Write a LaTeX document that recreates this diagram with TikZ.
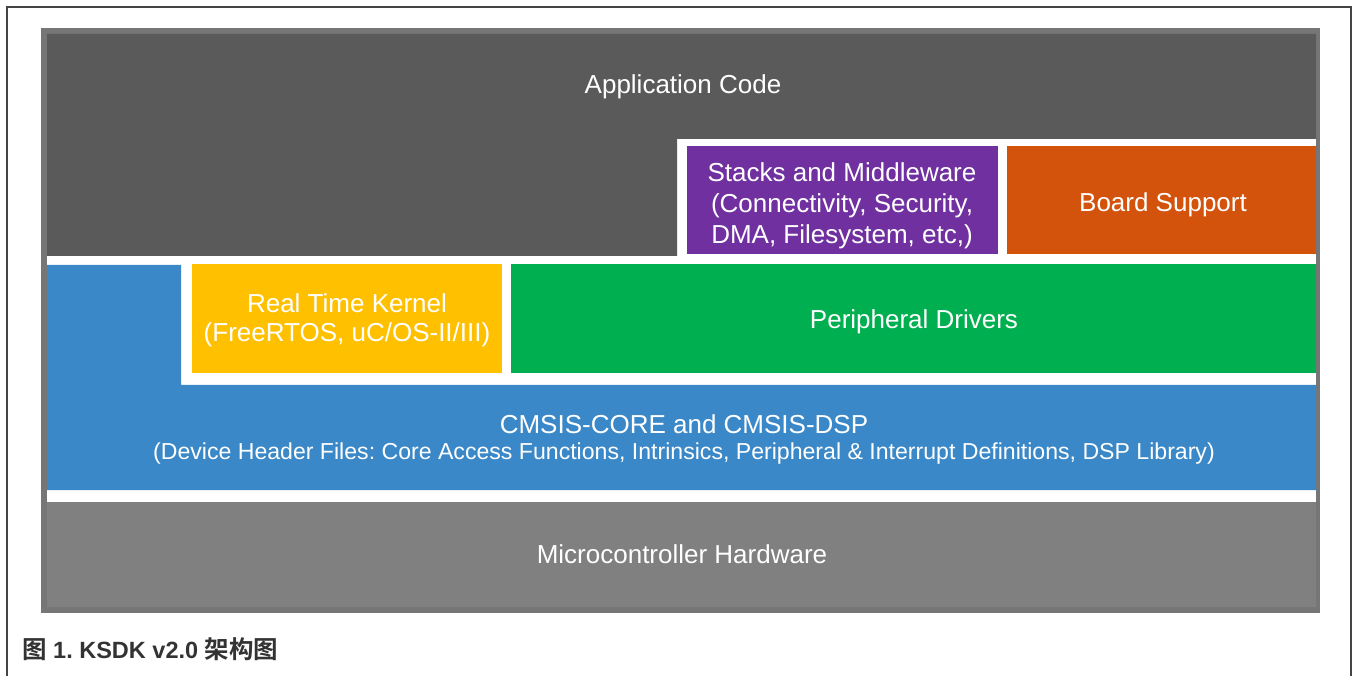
\documentclass[tikz,border=0pt]{standalone}
\usepackage{fontspec}
\setmainfont{Liberation Sans}
\newfontfamily\cjk{Noto Sans CJK SC}[BoldFont={Noto Sans CJK SC Bold}]
\frenchspacing
\definecolor{frameC}{HTML}{444444}
\definecolor{outerC}{HTML}{767676}
\definecolor{appC}{HTML}{5A5A5A}
\definecolor{hwC}{HTML}{808080}
\definecolor{purpC}{HTML}{7030A0}
\definecolor{orangeC}{HTML}{D3520C}
\definecolor{greenC}{HTML}{00B050}
\definecolor{yellowC}{HTML}{FFC000}
\definecolor{blueC}{HTML}{3A88C8}
\definecolor{capC}{HTML}{333333}
\tikzset{
  block/.style={anchor=north west, inner sep=0pt, outer sep=0pt, draw=none},
  lbl/.style={inner sep=0pt, text=white, align=center, font=\fontsize{26}{31}\selectfont},
}
\begin{document}
\begin{tikzpicture}[x=1pt,y=-1pt]
\useasboundingbox (0,0) rectangle (1353,676);
% page frame
\draw[frameC, line width=2pt] (7,676) -- (7,7) -- (1351,7) -- (1351,676);
% container
\fill[outerC] (41,28) rectangle (1320,613);
\fill[white] (47,34) rectangle (1316,607);
% application code (L-shape)
\fill[appC] (47,34) -- (1316,34) -- (1316,139) -- (677,139) -- (677,256) -- (47,256) -- cycle;
\node[lbl] (app) at (683,87) {Application Code};
% stacks and board support
\node[block, fill=purpC, minimum width=311pt, minimum height=108pt] (stacks) at (687,146) {};
\node[lbl] (stackslbl) at (842,206) {Stacks and Middleware\\(Connectivity, Security,\\DMA, Filesystem, etc,)};
\node[block, fill=orangeC, minimum width=309pt, minimum height=108pt] (board) at (1007,146) {};
\node[lbl] (boardlbl) at (1163,205) {Board Support};
% CMSIS (L-shape)
\fill[blueC] (47,265) -- (181,265) -- (181,385) -- (1316,385) -- (1316,490) -- (47,490) -- cycle;
\node[lbl] (cmsis) at (684,424) {CMSIS-CORE and CMSIS-DSP};
\node[lbl, font=\fontsize{23.1}{27}\selectfont] (cmsisdesc) at (684,454)
  {(Device Header Files: Core Access Functions, Intrinsics, Peripheral \& Interrupt Definitions, DSP Library)};
% RTOS and drivers
\node[block, fill=yellowC, minimum width=310pt, minimum height=109pt] (rtk) at (192,264) {};
\node[lbl, font=\fontsize{26}{29}\selectfont] (rtklbl) at (347,320) {Real Time Kernel\\(FreeRTOS, uC/OS-II/III)};
\node[block, fill=greenC, minimum width=805pt, minimum height=109pt] (drv) at (511,264) {};
\node[lbl] (drvlbl) at (914,322) {Peripheral Drivers};
% hardware
\node[block, fill=hwC, minimum width=1269pt, minimum height=105pt] (hw) at (47,502) {};
\node[lbl] (hwlbl) at (682,554) {Microcontroller Hardware};
% caption
\node[anchor=base west, inner sep=0pt, text=capC, font=\bfseries\fontsize{23.5}{27}\selectfont] (cap) at (22,658)
  {{\cjk\bfseries\fontsize{24.5}{27}\selectfont 图} 1. KSDK v2.0 {\cjk\bfseries\fontsize{24.5}{27}\selectfont 架构图}};
\end{tikzpicture}
\end{document}
